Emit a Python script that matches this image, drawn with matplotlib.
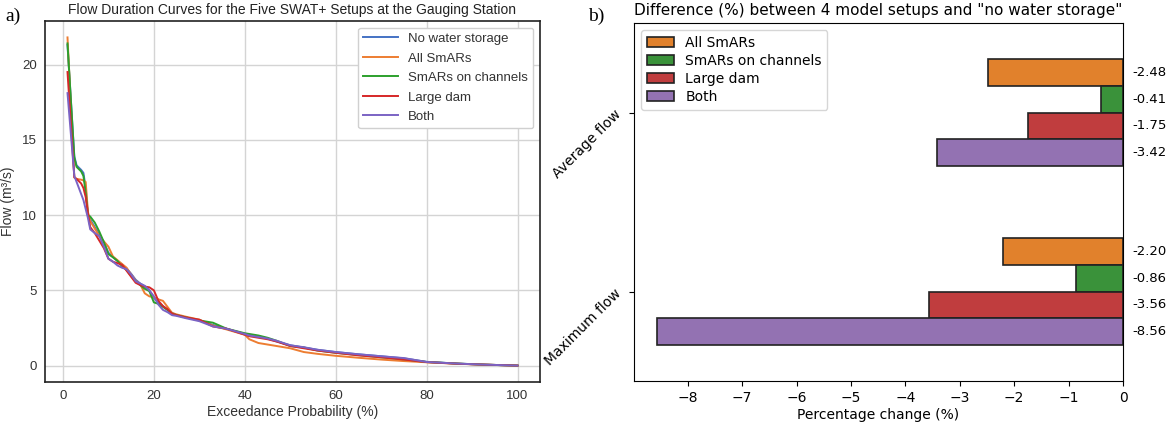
import matplotlib
matplotlib.use("Agg")
from matplotlib import pyplot as plt
from matplotlib import transforms
import numpy as np

# exceedance probability (%) where the curves were read
exceed = [1, 2.5, 3, 4, 4.5, 5, 5.5, 6, 7, 8, 9, 10, 11, 12, 13, 14, 15, 16, 17, 18, 19, 20,
          21, 22, 23, 24, 25, 27, 30, 33, 36, 40, 41, 43, 45, 47, 50, 53, 56, 60, 65, 70, 75,
          80, 87, 93, 100]

flow_none = [21.3, 13.9, 13.3, 13.0, 12.8, 11.8, 10.0, 9.7, 9.2, 8.7, 8.2, 7.5, 7.2, 6.95, 6.7,
             6.45, 6.1, 5.7, 5.45, 5.25, 5.0, 4.5, 4.2, 3.95, 3.7, 3.5, 3.35, 3.2, 3.0, 2.7, 2.45,
             2.1, 2.05, 1.95, 1.8, 1.6, 1.35, 1.2, 1.05, 0.9, 0.75, 0.62, 0.48, 0.25, 0.13, 0.06, 0.0]
flow_all = [21.8, 12.5, 12.4, 12.35, 12.3, 12.2, 10.2, 9.6, 9.1, 8.6, 8.25, 7.9, 7.25, 7.0, 6.75,
            6.5, 6.05, 5.65, 5.4, 4.8, 4.6, 4.55, 4.4, 4.3, 3.9, 3.5, 3.4, 3.25, 3.05, 2.65, 2.4,
            2.05, 1.75, 1.5, 1.4, 1.3, 1.15, 0.9, 0.78, 0.65, 0.52, 0.4, 0.3, 0.22, 0.12, 0.06, 0.0]
flow_chan = [21.4, 13.8, 13.2, 12.9, 12.6, 11.5, 10.0, 9.9, 9.5, 8.9, 8.2, 7.4, 7.2, 6.95, 6.6,
             6.35, 5.95, 5.6, 5.35, 5.1, 4.95, 4.2, 4.1, 3.9, 3.7, 3.45, 3.35, 3.2, 3.0, 2.85, 2.45,
             2.15, 2.1, 2.0, 1.85, 1.65, 1.3, 1.2, 1.0, 0.85, 0.7, 0.55, 0.42, 0.24, 0.13, 0.06, 0.0]
flow_dam = [19.5, 12.5, 12.4, 12.1, 11.8, 11.2, 10.1, 9.2, 8.8, 8.3, 7.8, 7.1, 6.9, 6.8, 6.7,
            6.3, 5.9, 5.5, 5.35, 5.25, 5.2, 5.0, 4.3, 3.95, 3.75, 3.45, 3.35, 3.2, 3.05, 2.6, 2.45,
            2.05, 1.95, 1.85, 1.75, 1.6, 1.3, 1.15, 1.0, 0.85, 0.68, 0.55, 0.4, 0.23, 0.12, 0.06, 0.0]
flow_both = [18.1, 12.6, 12.2, 11.4, 11.0, 10.4, 9.8, 9.05, 8.8, 8.6, 7.9, 7.1, 6.9, 6.65, 6.5,
             6.4, 6.05, 5.6, 5.45, 5.3, 5.0, 4.6, 4.05, 3.7, 3.55, 3.35, 3.3, 3.15, 2.95, 2.6, 2.45,
             2.1, 2.0, 1.9, 1.8, 1.65, 1.35, 1.22, 1.05, 0.9, 0.75, 0.62, 0.5, 0.24, 0.13, 0.06, 0.0]

curve_labels = ["No water storage", "All SmARs", "SmARs on channels", "Large dam", "Both"]
curve_colors = ["#4472c4", "#ed7d31", "#2ca02c", "#d62728", "#7b63c4"]

# panel b
setups = ["All SmARs", "SmARs on channels", "Large dam", "Both"]
metrics = ["Maximum flow", "Average flow"]
change_max = [-2.20, -0.86, -3.56, -8.56]
change_avg = [-2.48, -0.41, -1.75, -3.42]
bar_colors = ["#e1812c", "#3a923a", "#c03d3e", "#9372b2"]

fig = plt.figure(figsize=(11.69, 4.24), dpi=100)
ax1 = fig.add_axes([45 / 1169, 1 - 382 / 424, 495 / 1169, 361 / 424])
ax2 = fig.add_axes([634 / 1169, 1 - 381 / 424, 489 / 1169, 358 / 424])

# ---- a) flow duration curves
sans = "Liberation Sans"
for y, lab, col in zip([flow_none, flow_all, flow_chan, flow_dam, flow_both], curve_labels, curve_colors):
    ax1.plot(exceed, y, color=col, linewidth=1.4, label=lab)
ax1.grid(color="#d4d4d4", linewidth=1)
ax1.set_axisbelow(True)
for s in ax1.spines.values():
    s.set_color("#222222")
    s.set_linewidth(1.2)
ax1.tick_params(length=0, pad=6, labelsize=9.5, labelcolor="#333333")
ax1.set_xticks([0, 20, 40, 60, 80, 100])
ax1.set_yticks([0, 5, 10, 15, 20])
ax1.set_xticklabels(["0", "20", "40", "60", "80", "100"], family=sans)
ax1.set_yticklabels(["0", "5", "10", "15", "20"], family=sans)
ax1.set_xlabel("Exceedance Probability (%)", family=sans, fontsize=10, color="#333333", labelpad=2)
ax1.set_ylabel("Flow (m³/s)", family=sans, fontsize=10, color="#333333", labelpad=5)
ax1.set_title("Flow Duration Curves for the Five SWAT+ Setups at the Gauging Station",
              family=sans, fontsize=10, color="#222222", pad=5)
leg1 = ax1.legend(loc="upper right", prop={"family": sans, "size": 9.5}, framealpha=1,
                  edgecolor="#d0d0d0", fancybox=True, handlelength=2.6, labelspacing=0.55)
for t in leg1.get_texts():
    t.set_color("#333333")

# ---- b) percentage change bars
h = 0.15
pos = np.arange(len(metrics))
offsets = [1.5 * h, 0.5 * h, -0.5 * h, -1.5 * h]
tr = transforms.blended_transform_factory(ax2.transAxes, ax2.transData)
for i, (lab, col) in enumerate(zip(setups, bar_colors)):
    vals = [change_max[i], change_avg[i]]
    ax2.barh(pos + offsets[i], vals, height=h, color=col, edgecolor="#222222",
             linewidth=1.2, label=lab)
    for p, v in zip(pos, vals):
        ax2.text(1.02, p + offsets[i], f"{v:.2f}", transform=tr, ha="left", va="center",
                 fontsize=9.5)
lo = min(change_max + change_avg)
ax2.set_xlim(lo * 1.05, 0)
ax2.set_ylim(-0.5, 1.5)
ax2.set_yticks(pos)
ax2.set_yticklabels(metrics, rotation=45, fontsize=10)
ax2.set_xticks(np.arange(-8, 1))
ax2.tick_params(labelsize=10)
ax2.set_xlabel("Percentage change (%)", fontsize=10, labelpad=2)
ax2.set_title("Difference (%) between 4 model setups and \"no water storage\"", fontsize=11, pad=6)
ax2.legend(loc="upper left", fontsize=10, labelspacing=0.3)

fig.text(5 / 1169, 1 - 16 / 424, "a)", family="Liberation Serif", fontsize=14, va="center")
fig.text(588 / 1169, 1 - 16 / 424, "b)", family="Liberation Serif", fontsize=14, va="center")

plt.savefig("out.png", dpi=100)
